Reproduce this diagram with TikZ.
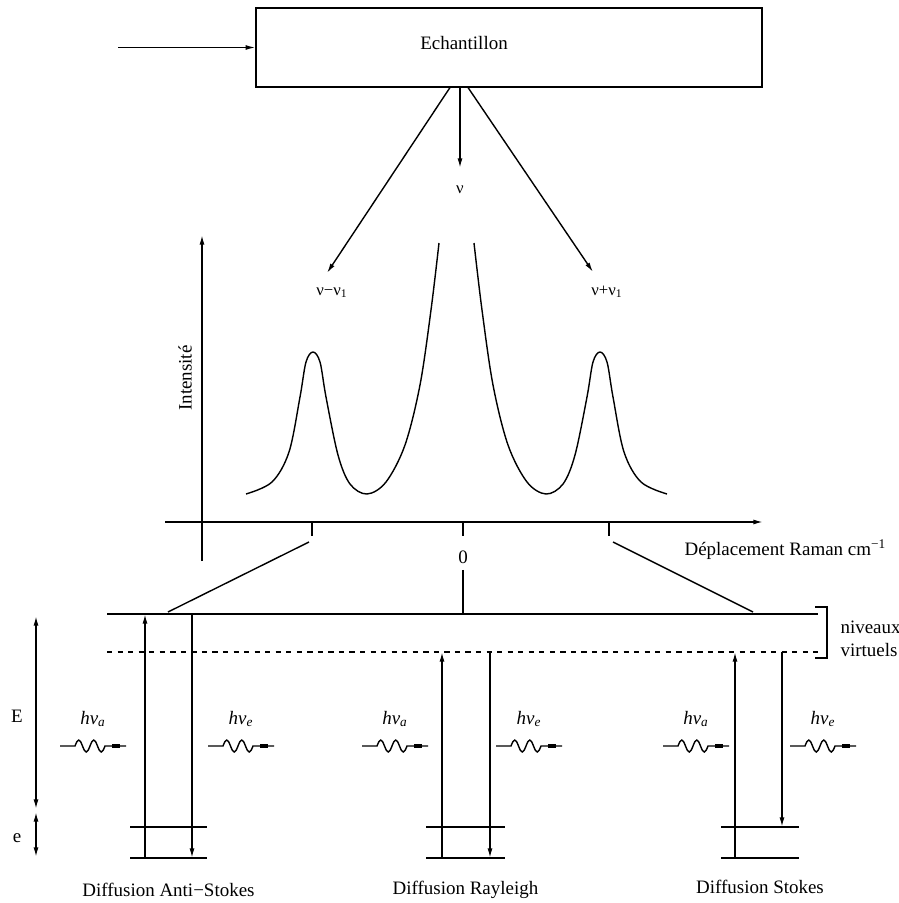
\documentclass[tikz,border=0pt]{standalone}
\usepackage{fontspec}
\setmainfont{Liberation Serif}
\usetikzlibrary{arrows.meta}

\tikzset{
  fleche/.style={-{Latex[length=5.5pt,width=2.8pt]}},
  dfleche/.style={{Latex[length=5.5pt,width=2.8pt]}-{Latex[length=5.5pt,width=2.8pt]}},
  boite/.style={draw,minimum width=10.12cm,minimum height=1.58cm,inner sep=0pt},
  photon/.pic={
    \draw (0,0) -- (15,0) sin (18.75,-6) cos (22.5,0) sin (26.25,6) cos (30,0)
      sin (33.75,-6) cos (37.5,0) sin (41.25,6) cos (45,0) -- (66,0);
    \fill (52,-2) rectangle (60,2);
  }
}

\begin{document}
\begin{tikzpicture}[x=0.02cm,y=-0.02cm,line width=0.8pt,font=\fontsize{10.8}{12}\selectfont]
  \useasboundingbox (0,0) rectangle (899,903);

  % echantillon
  \node[boite] (ech) at (509,47.5) {};
  \node (echtxt) at (464,43) {Echantillon};
  \coordinate (src) at (118,47.5);
  \draw[fleche] (src) -- (ech.west);

  % raies diffusees
  \coordinate (d1) at (450,87.5);
  \coordinate (d2) at (460,87.5);
  \coordinate (d3) at (468,87.5);
  \coordinate (t1) at (327,273);
  \coordinate (t2) at (460,168);
  \coordinate (t3) at (593,272);
  \foreach \a/\b in {d1/t1, d2/t2, d3/t3}
    \draw[fleche] (\a) -- (\b);
  \begin{scope}[font=\fontsize{9.5}{11}\selectfont]
    \node (nu) at (460,190) {ν};
    \node (numoins) at (332,293) {ν−ν\textsubscript{1}};
    \node (nuplus) at (607,292) {ν+ν\textsubscript{1}};
  \end{scope}

  % axes du spectre
  \coordinate (yb) at (202,561);
  \coordinate (yh) at (202,235);
  \coordinate (xg) at (165,522);
  \coordinate (xd) at (763,522);
  \draw[fleche] (yb) -- (yh);
  \draw[fleche] (xg) -- (xd);
  \node[rotate=90] (int) at (185,378) {Intensité};
  \node[anchor=west] (depl) at (678,550) {Déplacement Raman cm\textsuperscript{−1}};
  \foreach \x in {312,463,609}
    \draw (\x,522) -- (\x,536);
  \node (zero) at (463,557) {0};

  % spectre
  \draw plot[smooth,tension=0.55] coordinates {(246,494) (272,482) (289,452) (300,397)
    (306,362) (313,352) (320,362) (326,397) (338,455) (350,484) (367,494) (386,482)
    (405,445) (420,385) (431,310) (439,243)};
  \draw plot[smooth,tension=0.55] coordinates {(474,243) (482,310) (493,385) (508,445)
    (527,482) (546,494) (563,484) (575,455) (587,397) (593,362) (600,352) (607,362)
    (613,397) (624,452) (641,482) (667,494)};

  % renvois vers les niveaux
  \draw (309,542) -- (168,612);
  \draw (613,542) -- (753,612);
  \draw (zero.south) -- (463,614);

  % niveaux virtuels
  \draw (107,614) -- (818,614);
  \draw[dashed] (107,652) -- (818,652);
  \draw (815,607) -- (827,607) -- (827,658) -- (815,658);
  \node[anchor=west] (niv) at (834,627) {niveaux};
  \node[anchor=west] (virt) at (834,650) {virtuels};

  % echelle d'energie
  \draw[dfleche] (36,616) -- (36,809);
  \draw[dfleche] (36,812) -- (36,857);
  \node (E) at (17,716) {E};
  \node (e) at (17,838) {e};

  % trois diffusions
  \foreach \xl/\xr/\xu/\yu/\xd/\yd/\pa/\pe/\nom/\ly in {
      130/207/145/614/192/858/60/208/Diffusion Anti−Stokes/890,
      426/505/442/652/490/858/362/496/Diffusion Rayleigh/890,
      721/799/735/652/782/827/663/790/Diffusion Stokes/887} {
    \draw (\xl,827) -- (\xr,827);
    \draw (\xl,858) -- (\xr,858);
    \draw[fleche] (\xu,858) -- (\xu,\yu);
    \draw[fleche] (\xd,\yu) -- (\xd,\yd);
    \pic at (\pa,746) {photon};
    \pic at (\pe,746) {photon};
    \node at (\pa+33,719) {\textit{hν}\textsubscript{\textit{a}}};
    \node at (\pe+33,719) {\textit{hν}\textsubscript{\textit{e}}};
    \node at ({(\xl+\xr)/2},\ly) {\nom};
  }
\end{tikzpicture}
\end{document}
